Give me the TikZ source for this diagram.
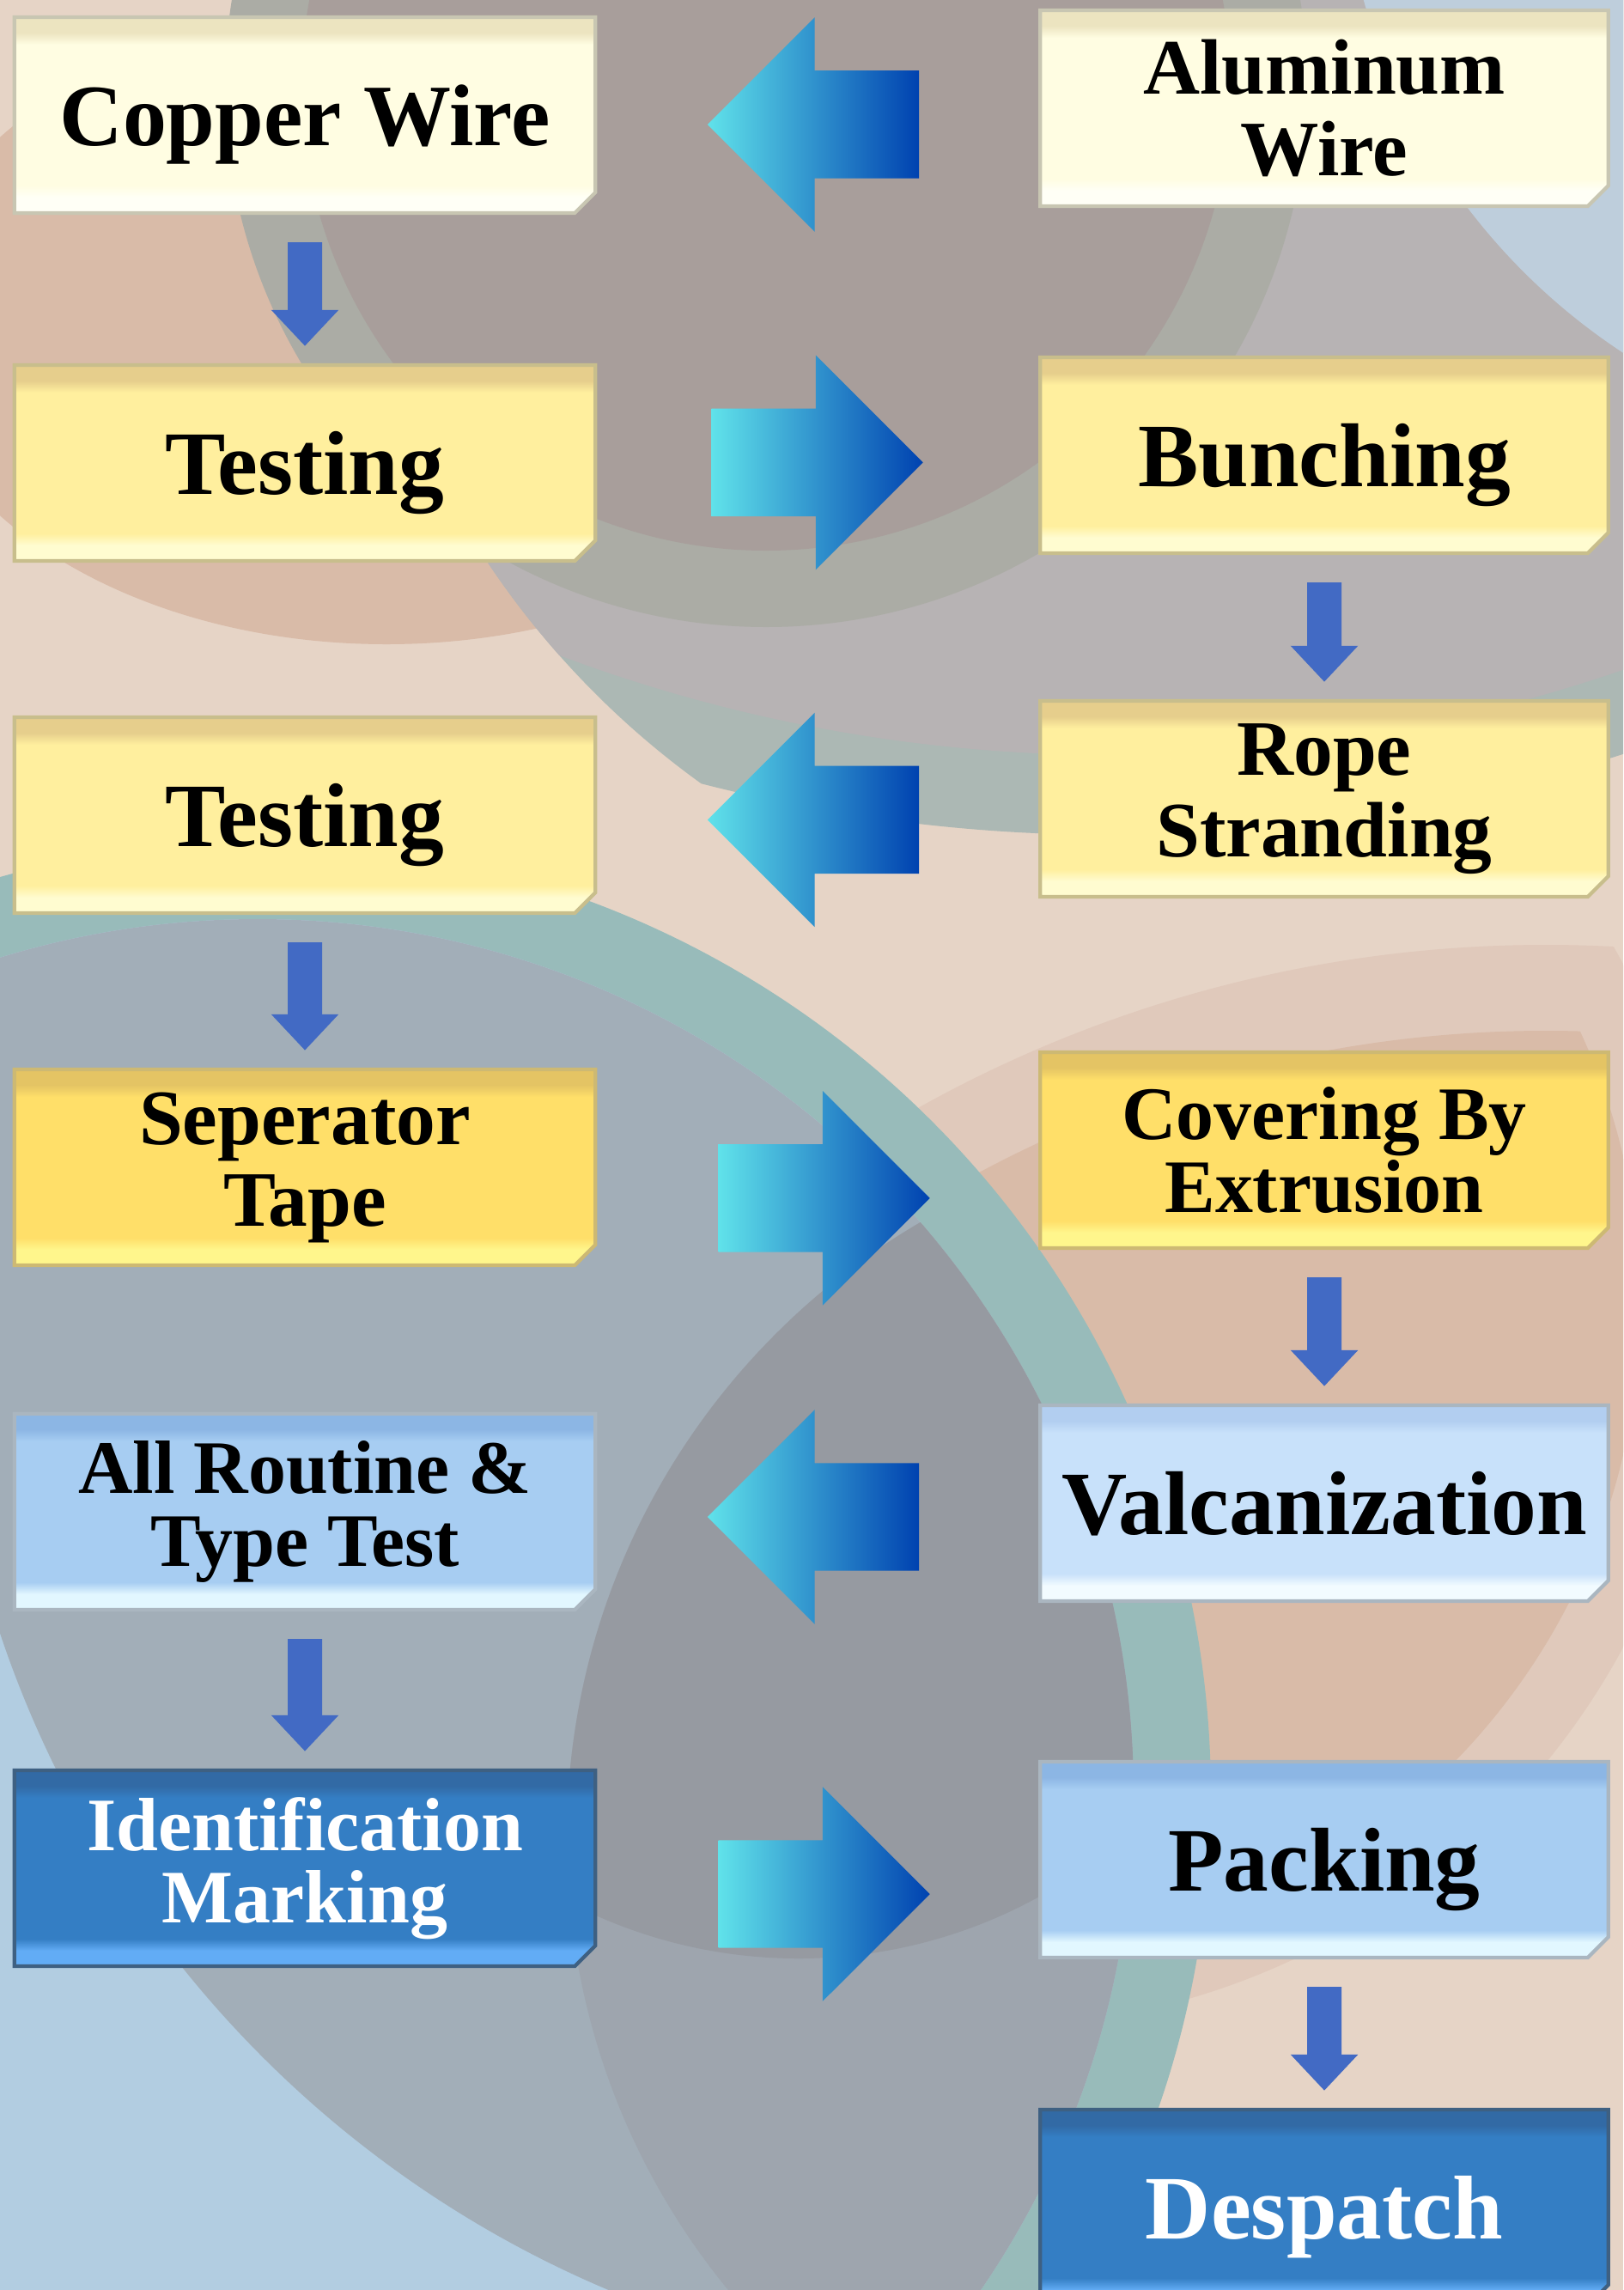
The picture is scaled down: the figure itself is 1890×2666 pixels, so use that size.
\documentclass[tikz,border=0pt]{standalone}
\usepackage{fontspec}
\setmainfont{Liberation Serif}
\usetikzlibrary{shapes.arrows,shapes.misc,arrows.meta}

\definecolor{bgpeach}{RGB}{230,212,198}
\definecolor{bgsalmon}{RGB}{217,187,168}
\definecolor{bglsalmon}{RGB}{224,201,187}
\definecolor{bgbrown}{RGB}{168,158,155}
\definecolor{bgring}{RGB}{171,172,165}
\definecolor{bgsilver}{RGB}{183,179,180}
\definecolor{bgsilverring}{RGB}{172,184,180}
\definecolor{bgsky}{RGB}{190,206,220}
\definecolor{bgteal}{RGB}{152,187,186}
\definecolor{bglblue}{RGB}{178,205,225}
\definecolor{bgbluegray}{RGB}{162,174,184}
\definecolor{bgmidgray}{RGB}{158,165,174}
\definecolor{bgdark}{RGB}{150,154,161}

\definecolor{creamtop}{RGB}{236,228,192}
\definecolor{creambody}{RGB}{255,253,226}
\definecolor{creambot}{RGB}{255,255,246}
\definecolor{creamline}{RGB}{200,198,178}
\definecolor{yeltop}{RGB}{230,206,140}
\definecolor{yelbody}{RGB}{255,239,158}
\definecolor{yelbot}{RGB}{255,252,208}
\definecolor{yelline}{RGB}{200,190,140}
\definecolor{goldtop}{RGB}{228,196,100}
\definecolor{goldbody}{RGB}{255,223,105}
\definecolor{goldbot}{RGB}{255,246,140}
\definecolor{goldline}{RGB}{205,185,115}
\definecolor{skytop}{RGB}{140,182,228}
\definecolor{skybody}{RGB}{167,205,242}
\definecolor{skybot}{RGB}{226,247,255}
\definecolor{paletop}{RGB}{178,206,240}
\definecolor{palebody}{RGB}{200,225,250}
\definecolor{palebot}{RGB}{242,251,255}
\definecolor{skyline}{RGB}{170,182,192}
\definecolor{navytop}{RGB}{50,106,165}
\definecolor{navybody}{RGB}{52,126,196}
\definecolor{navybot}{RGB}{98,172,245}
\definecolor{navyline}{RGB}{62,96,130}

\definecolor{arrowcyan}{RGB}{96,226,234}
\definecolor{arrowblue}{RGB}{0,66,176}
\definecolor{flowblue}{RGB}{66,106,196}

% top band, body, light band at the bottom
\newcommand\mkboxshade[4]{\pgfdeclareverticalshading{#1}{100bp}{color(0bp)=(#4); color(29bp)=(#4); color(32bp)=(#3); color(68bp)=(#3); color(71bp)=(#2); color(100bp)=(#2)}}
\mkboxshade{creamshade}{creamtop}{creambody}{creambot}
\mkboxshade{yelshade}{yeltop}{yelbody}{yelbot}
\mkboxshade{goldshade}{goldtop}{goldbody}{goldbot}
\mkboxshade{skyshade}{skytop}{skybody}{skybot}
\mkboxshade{paleshade}{paletop}{palebody}{palebot}
\mkboxshade{navyshade}{navytop}{navybody}{navybot}

\begin{document}
\begin{tikzpicture}[x=0.01cm,y=-0.01cm,
  box/.style={chamfered rectangle,chamfered rectangle corners=south east,chamfered rectangle xsep=0.12cm,chamfered rectangle ysep=0.12cm,minimum height=2.28cm,inner sep=0pt,align=center,line width=1.2pt,font=\bfseries\fontsize{26}{27}\selectfont},
  lbox/.style={box,minimum width=6.76cm},
  rbox/.style={box,minimum width=6.61cm},
  oneline/.style={font=\bfseries\fontsize{30}{31}\selectfont,text depth=0pt},
  tight/.style={font=\bfseries\fontsize{25}{24}\selectfont},
  cream/.style={shade,shading=creamshade,draw=creamline},
  yel/.style={shade,shading=yelshade,draw=yelline},
  gold/.style={shade,shading=goldshade,draw=goldline},
  sky/.style={shade,shading=skyshade,draw=skyline},
  pale/.style={shade,shading=paleshade,draw=skyline},
  navy/.style={shade,shading=navyshade,draw=navyline,text=white},
  flow/.style={-{Triangle[width=0.76cm,length=0.42cm]},line width=0.4cm,draw=flowblue,shorten <=0.32cm,shorten >=0.2cm},
  blockarrow/.style={single arrow,single arrow head extend=0.62cm,single arrow tip angle=90,minimum height=2.46cm,minimum width=2.46cm,inner xsep=0pt,inner ysep=0.62cm,left color=arrowcyan,right color=arrowblue},
  toright/.style={blockarrow,xshift=-0.32cm},
  toleft/.style={blockarrow,shape border rotate=180,xshift=0.26cm}]
\useasboundingbox (0,0) rectangle (1890,2666);

% background circles
\begin{scope}
\clip (0,0) rectangle (1890,2666);
\fill[bgpeach] (0,0) rectangle (1890,2666);
\fill[bgsalmon] (450,380) ellipse [x radius=560,y radius=370];
\begin{scope}
\clip (1400,100) circle [radius=1000];
\fill[bgsilverring] (1294,-951) circle [radius=1923];
\fill[bgsilver] (1294,-951) circle [radius=1830];
\end{scope}
\fill[bgring] (892,100) circle [radius=630];
\fill[bgbrown] (892,100) circle [radius=541];
\fill[bgsky] (2290,-200) circle [radius=730];
\begin{scope}
\clip (1150,1520) circle [radius=840];
\fill[bglsalmon] (1800,2600) circle [radius=1500];
\end{scope}
\begin{scope}
\clip (1150,1520) circle [radius=760];
\fill[bgsalmon] (1800,2600) circle [radius=1400];
\end{scope}
\fill[bgteal] (300,2090) circle [radius=1110];
\fill[bglblue] (300,2090) circle [radius=1020];
\begin{scope}
\clip (300,2090) circle [radius=1020];
\fill[bgbluegray] (1200,1500) circle [radius=1265];
\fill[bgmidgray] (1490,2140) circle [radius=830];
\clip (1490,2140) circle [radius=830];
\fill[bgdark] (930,1700) circle [radius=580];
\end{scope}
\end{scope}

\node[lbox,cream,oneline,font=\bfseries\fontsize{29}{30}\selectfont] (copper) at (355,134) {Copper Wire};
\node[rbox,cream] (alu) at (1542,126) {Aluminum\\Wire};
\node[lbox,yel,oneline] (testA) at (355,539) {Testing};
\node[rbox,yel,oneline] (bunch) at (1542,530) {Bunching};
\node[rbox,yel] (rope) at (1542,930) {Rope\\Stranding};
\node[lbox,yel,oneline] (testB) at (355,949) {Testing};
\node[lbox,gold] (sep) at (355,1359) {Seperator\\Tape};
\node[rbox,gold,tight] (cover) at (1542,1339) {Covering By\\Extrusion};
\node[rbox,pale,oneline] (valc) at (1542,1750) {Valcanization};
\node[lbox,sky,tight] (routine) at (355,1760) {All Routine \&\\Type Test};
\node[lbox,navy,tight] (ident) at (355,2175) {Identification\\Marking};
\node[rbox,sky,oneline] (pack) at (1542,2165) {Packing};
\node[rbox,navy,oneline] (desp) at (1542,2570) {Despatch};

\draw[flow] (copper) -- (testA);
\draw[flow] (testB) -- (sep);
\draw[flow] (routine) -- (ident);
\draw[flow] (bunch) -- (rope);
\draw[flow] (cover) -- (valc);
\draw[flow] (pack) -- (desp);

\path (alu) -- (copper) node[midway,toleft,yshift=-0.15cm] (arrA) {};
\path (testA) -- (bunch) node[midway,toright,yshift=-0.04cm] (arrB) {};
\path (rope) -- (testB) node[midway,toleft,yshift=-0.15cm] (arrC) {};
\path (sep) -- (cover) node[midway,toright,xshift=0.08cm,yshift=-0.46cm] (arrD) {};
\path (valc) -- (routine) node[midway,toleft,yshift=-0.11cm] (arrE) {};
\path (ident) -- (pack) node[midway,toright,xshift=0.08cm,yshift=-0.35cm] (arrF) {};
\end{tikzpicture}
\end{document}
